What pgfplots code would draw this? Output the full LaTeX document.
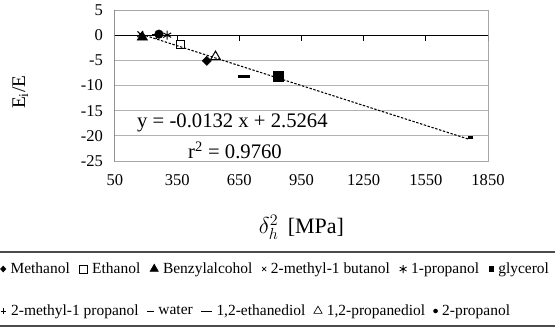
\documentclass[border=0pt]{standalone}
\usepackage{fontspec}
\setmainfont{Liberation Serif}
\usepackage{pgfplots}
\pgfplotsset{compat=1.18}
\begin{document}
\begin{tikzpicture}
\pgfplotsset{
  common/.style={
    scale only axis, width=279.75pt, height=113.25pt,
    xmin=50, xmax=1850, ymin=-25, ymax=5,
    xtick={50,350,650,950,1250,1550,1850},
    ytick={-25,-20,-15,-10,-5,0,5},
  },
  legimg/.style={legend image code/.code={\draw[mark repeat=2,mark phase=2,##1] plot coordinates {(0cm,0cm)(0.1cm,0cm)(0.2cm,0cm)};}},
}
\begin{axis}[common, name=A,
  axis line style={draw=gray!70, line width=0.75pt},
  ymajorgrids, grid style={gray!60, line width=0.75pt},
  tick style={draw=none},
  xticklabels={50,350,650,950,1250,1550,1850},
  yticklabels={-25,-20,-15,-10,-5,0,5},
  tick label style={font=\fontsize{12.4}{14}\selectfont},
  xticklabel style={yshift=-6.4pt},
  yticklabel style={xshift=-5.6pt},
  xlabel={$\delta_h^2$\, [MPa]},
  xlabel style={at={(axis description cs:0.5,-0.437)}, anchor=center, font=\fontsize{16.5}{19}\selectfont},
  ylabel={E\textsubscript{i}/E},
  ylabel style={at={(axis description cs:-0.254,0.456)}, anchor=center, font=\fontsize{14.5}{17}\selectfont},
  legimg,
  legend columns=-1,
  legend style={at={(axis description cs:0,0)}, anchor=west, xshift=-86pt, yshift=-81pt,
    draw=none, fill=none, inner sep=0pt, font=\fontsize{11.6}{13}\selectfont,
    /tikz/every odd column/.append style={column sep=1.5pt},
    /tikz/every even column/.append style={column sep=5.3pt}},
]
% axis lines (black y axis at left, black x axis at y = 0, with tick marks)
\draw[black, line width=0.75pt] (axis cs:50,0) -- (axis cs:1850,0);
\draw[black, line width=0.75pt] (axis cs:50,-25) -- (axis cs:50,5);
\draw[black, line width=0.75pt] (axis cs:350,0) -- ++(0pt,-4pt);
\draw[black, line width=0.75pt] (axis cs:650,0) -- ++(0pt,-4pt);
\draw[black, line width=0.75pt] (axis cs:950,0) -- ++(0pt,-4pt);
\draw[black, line width=0.75pt] (axis cs:1250,0) -- ++(0pt,-4pt);
\draw[black, line width=0.75pt] (axis cs:1550,0) -- ++(0pt,-4pt);
\draw[black, line width=0.75pt] (axis cs:1850,0) -- ++(0pt,-4pt);
\draw[black, line width=0.75pt] (axis cs:50,5) -- ++(-3.8pt,0pt);
\draw[black, line width=0.75pt] (axis cs:50,0) -- ++(-3.8pt,0pt);
\draw[black, line width=0.75pt] (axis cs:50,-5) -- ++(-3.8pt,0pt);
\draw[black, line width=0.75pt] (axis cs:50,-10) -- ++(-3.8pt,0pt);
\draw[black, line width=0.75pt] (axis cs:50,-15) -- ++(-3.8pt,0pt);
\draw[black, line width=0.75pt] (axis cs:50,-20) -- ++(-3.8pt,0pt);
\draw[black, line width=0.75pt] (axis cs:50,-25) -- ++(-3.8pt,0pt);
% data (series order as in the legend)
\addplot[forget plot, only marks, mark=diamond*, mark size=3.4pt, mark options={xscale=1.33, fill=black}] coordinates {(493,-5.1)};
\addplot[forget plot, only marks, mark=square, mark size=3pt, mark options={line width=0.75pt}] coordinates {(365,-1.8)};
\addplot[forget plot, only marks, mark=triangle*, mark size=4.5pt, mark options={fill=black}] coordinates {(182,-0.4)};
\addplot[forget plot, only marks, mark=x, mark size=3pt, mark options={line width=0.75pt}] coordinates {(172,0.2)};
\addplot[forget plot, only marks, mark=asterisk, mark size=3.4pt, mark options={line width=0.75pt}] coordinates {(302,0.0)};
\addplot[forget plot, only marks, mark=square*, mark size=3.75pt, mark options={fill=black}] coordinates {(840,-8.2)};
\addplot[forget plot, only marks, mark=+, mark size=3pt, mark options={line width=0.75pt}] coordinates {(250,0.1)};
\addplot[forget plot, only marks, mark=-, mark size=2pt, mark options={line width=2.2pt}] coordinates {(1765,-20.4)};
\addplot[forget plot, only marks, mark=-, mark size=4.5pt, mark options={line width=2.2pt}] coordinates {(672,-8.3)};
\addplot[forget plot, only marks, mark=triangle, mark size=4.3pt, mark options={line width=0.75pt}] coordinates {(535,-4.3)};
\addplot[forget plot, only marks, mark=*, mark size=3.2pt, mark options={fill=black}] coordinates {(262,0.2)};
% linear trend line
\addplot[forget plot, black, line width=0.8pt, dash pattern=on 1.8pt off 1.2pt] coordinates {(180,0.1504) (1760,-20.7056)};
\node[anchor=west, inner sep=0pt, font=\fontsize{15.5}{18}\selectfont] at (axis cs:156,-17.5) {y = -0.0132 x + 2.5264};
\node[anchor=west, inner sep=0pt, font=\fontsize{15.5}{18}\selectfont] at (axis cs:402,-22.85) {r\textsuperscript{2} = 0.9760};
% legend, first row
\addlegendimage{only marks, mark=diamond*, mark size=2.2pt, mark options={xscale=1.2, fill=black}}
\addlegendentry{Methanol}
\addlegendimage{only marks, mark=square, mark size=3pt, mark options={line width=0.6pt}}
\addlegendentry{Ethanol}
\addlegendimage{only marks, mark=triangle*, mark size=3.6pt, mark options={fill=black}}
\addlegendentry{Benzylalcohol}
\addlegendimage{only marks, mark=x, mark size=2.2pt, mark options={line width=0.5pt}}
\addlegendentry{2-methyl-1 butanol}
\addlegendimage{only marks, mark=asterisk, mark size=3pt, mark options={line width=0.6pt}}
\addlegendentry{1-propanol}
\addlegendimage{only marks, mark=square*, mark size=1.8pt, mark options={fill=black}}
\addlegendentry{glycerol}
\end{axis}
\begin{axis}[common, at={(A.south west)}, anchor=south west,
  hide axis,
  legimg,
  legend columns=-1,
  legend style={at={(axis description cs:0,0)}, anchor=west, xshift=-86pt, yshift=-112.5pt,
    draw=none, fill=none, inner sep=0pt, font=\fontsize{11.6}{13}\selectfont,
    /tikz/every odd column/.append style={column sep=1.5pt},
    /tikz/every even column/.append style={column sep=4.3pt}},
]
\addlegendimage{only marks, mark=+, mark size=2.2pt, mark options={line width=0.5pt}}
\addlegendentry{2-methyl-1 propanol}
\addlegendimage{only marks, mark=-, mark size=2.5pt, mark options={line width=0.5pt}}
\addlegendentry{water}
\addlegendimage{only marks, mark=-, mark size=4pt, mark options={line width=0.5pt}}
\addlegendentry{1,2-ethanediol}
\addlegendimage{only marks, mark=triangle, mark size=3.6pt, mark options={line width=0.5pt}}
\addlegendentry{1,2-propanediol}
\addlegendimage{only marks, mark=*, mark size=1.5pt, mark options={fill=black}}
\addlegendentry{2-propanol}
\end{axis}
\draw[gray!60!black, line width=1.1pt] ([shift={(-90pt,-68.25pt)}]A.south west) -- ++(425pt,0pt);
\draw[gray!60!black, line width=1.1pt] ([shift={(-90pt,-123.75pt)}]A.south west) -- ++(425pt,0pt);
\pgfresetboundingbox
\path ([shift={(-86.25pt,-125.25pt)}]A.south west) rectangle ++(416.25pt,246pt);
\end{tikzpicture}
\end{document}
